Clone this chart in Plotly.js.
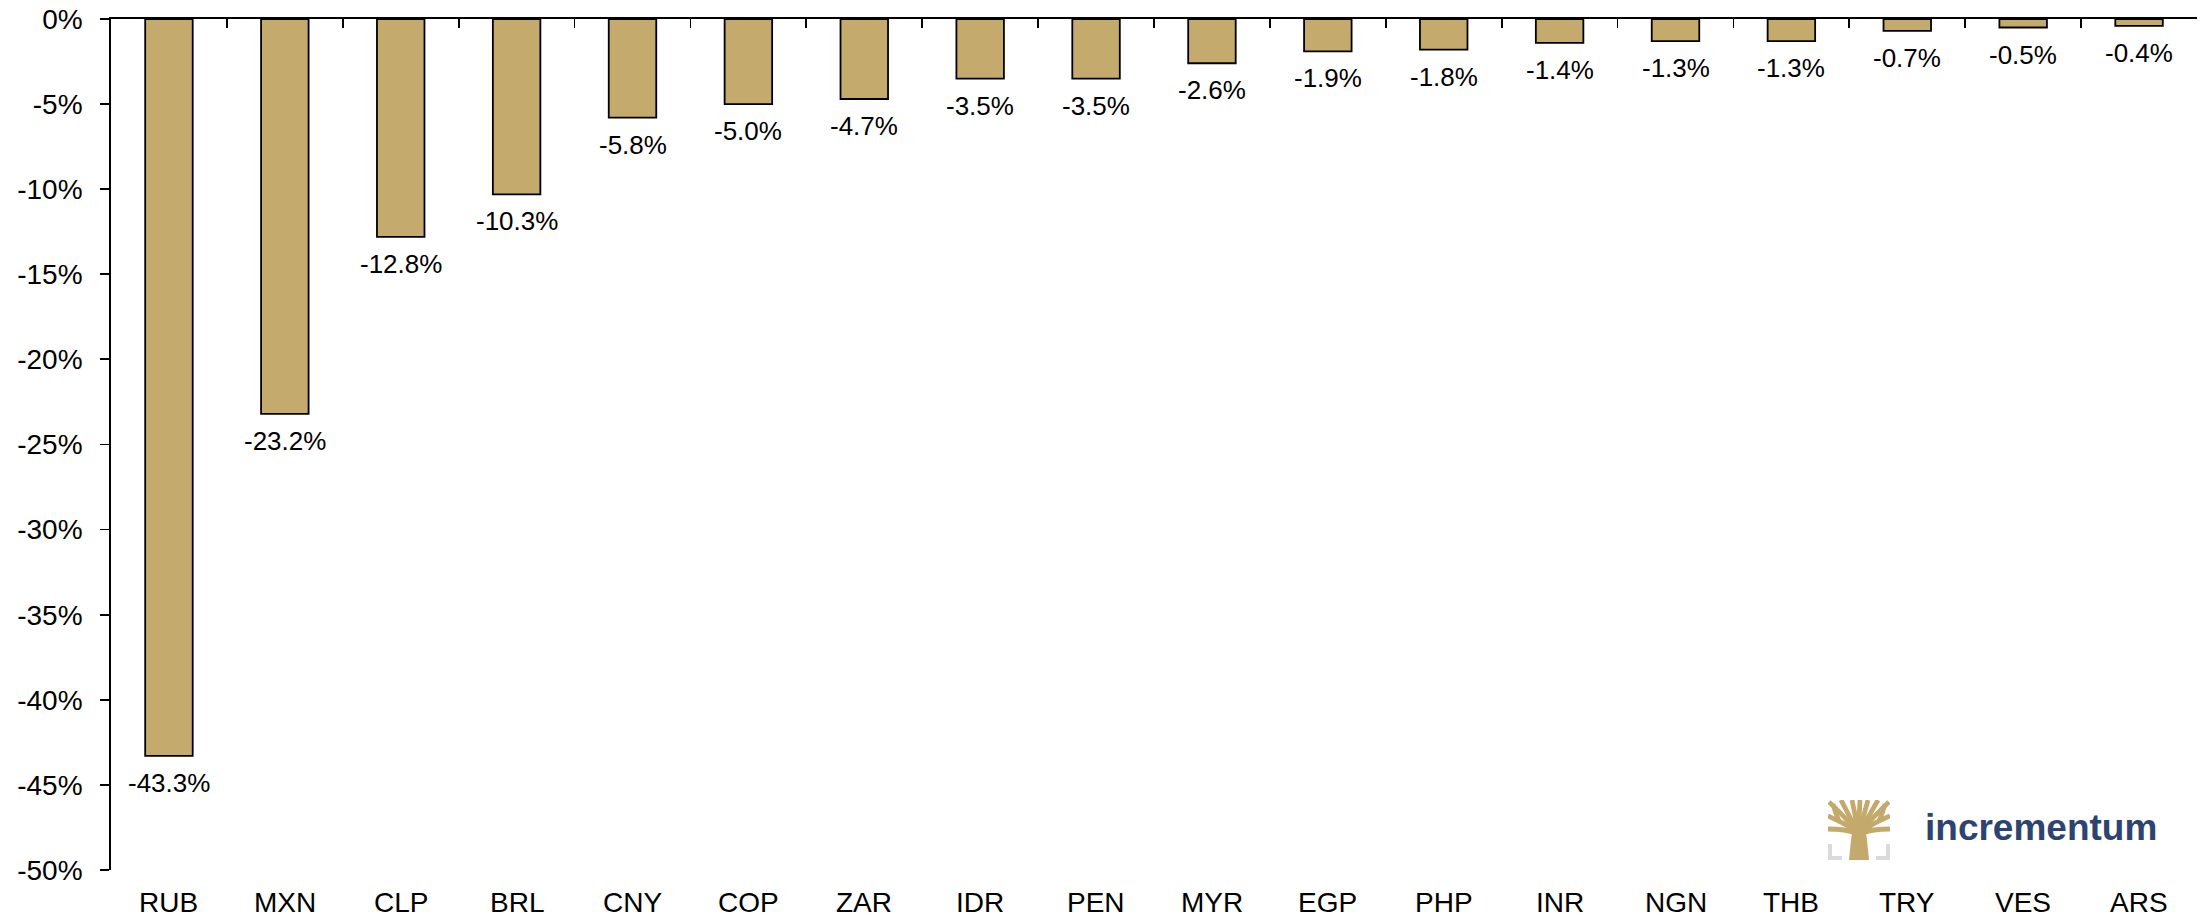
<!DOCTYPE html>
<html>
<head>
<meta charset="utf-8">
<script src="https://cdn.plot.ly/plotly-3.0.1.min.js"></script>
<style>html,body{margin:0;padding:0;background:#fff;}#chart{width:2208px;height:919px;}</style>
</head>
<body>
<div id="chart"></div>
<script>
const currencies = ["RUB","MXN","CLP","BRL","CNY","COP","ZAR","IDR","PEN","MYR","EGP","PHP","INR","NGN","THB","TRY","VES","ARS"];
const changes = [-43.3,-23.2,-12.8,-10.3,-5.8,-5.0,-4.7,-3.5,-3.5,-2.6,-1.9,-1.8,-1.4,-1.3,-1.3,-0.7,-0.5,-0.4];
const yTicks = [0,-5,-10,-15,-20,-25,-30,-35,-40,-45,-50];

const gold = "rgb(196,170,108)";
const font = "Liberation Sans, Arial, sans-serif";

const logoSvg = `<svg xmlns="http://www.w3.org/2000/svg" width="62" height="60" viewBox="0 0 62 60">
<path d="M0 44 V60 H14 V56 H4 V44 Z" fill="#DADADF"/>
<path d="M62 44 V60 H48 V56 H58 V44 Z" fill="#DADADF"/>
<path d="M21 60 L23 40 Q24 31 26 27 L36 27 Q38 31 39 40 L41 60 Z" fill="#C4A96C"/>
<g fill="none" stroke="#C4A96C" stroke-width="4.8" stroke-linecap="butt">
<path d="M28 33 Q18 29 0 29"/>
<path d="M28 31 Q14 22 0 16"/>
<path d="M28 30 Q14 14 1 2"/>
<path d="M29 30 Q20 14 13 0"/>
<path d="M30 30 Q27 14 24 0"/>
<path d="M31 30 Q31 14 32 0"/>
<path d="M32 30 Q36 14 40 0"/>
<path d="M33 30 Q42 14 50 0"/>
<path d="M34 30 Q48 14 61 2"/>
<path d="M34 31 Q47 22 62 16"/>
<path d="M34 33 Q44 29 62 29"/>
<path d="M11 21 Q7 12 5 4"/>
<path d="M51 21 Q55 12 57 4"/>
</g></svg>`;
const logoSrc = "data:image/svg+xml;base64," + btoa(logoSvg);

const trace = {
  type: "bar",
  x: currencies,
  y: changes,
  width: 0.41,
  marker: {color: gold, line: {color: "#000", width: 1.8}},
  cliponaxis: false,
  hoverinfo: "x+y"
};

const annotations = currencies.map(c => ({
  x: c, xref: "x", y: 0, yref: "paper",
  text: c, showarrow: false, yanchor: "middle", yshift: -32, borderpad: 0,
  font: {family: font, size: 28, color: "#000"}
}));
changes.forEach((v, i) => annotations.push({
  x: currencies[i], xref: "x", y: v, yref: "y",
  text: v.toFixed(1) + "%", showarrow: false, yanchor: "top", yshift: -10,
  font: {family: font, size: 26, color: "#000"}
}));
annotations.push({
  x: 1, xref: "paper", y: 0, yref: "paper", xanchor: "right", yanchor: "bottom",
  xshift: -38, yshift: 20,
  text: "<b>incrementum</b>", showarrow: false,
  font: {family: "Liberation Sans, Arial, sans-serif", size: 37, color: "#2E4470"}
});

const layout = {
  width: 2208, height: 919,
  margin: {l: 111, r: 11, t: 19, b: 49},
  paper_bgcolor: "#fff", plot_bgcolor: "#fff",
  showlegend: false,
  xaxis: {
    type: "category", side: "top",
    showline: true, linecolor: "#000", linewidth: 1.8,
    ticks: "inside", tickson: "boundaries", ticklen: 9, tickwidth: 1.8, tickcolor: "#000",
    showticklabels: false, showgrid: false, zeroline: false,
    range: [-0.5, currencies.length - 0.5]
  },
  yaxis: {
    range: [-50, 0],
    tickvals: yTicks,
    ticktext: yTicks.map(v => v + "%"),
    showline: true, linecolor: "#000", linewidth: 1.8,
    ticks: "outside", ticklen: 9, tickwidth: 1.8, tickcolor: "#000",
    tickfont: {family: font, size: 28, color: "#000"},
    ticklabelstandoff: 12,
    showgrid: false, zeroline: false
  },
  annotations: annotations,
  images: [{
    source: logoSrc, xref: "paper", yref: "paper",
    x: (1828 - 111) / (2208 - 111 - 11), y: (919 - 49 - 800) / (919 - 49 - 19),
    sizex: 62 / (2208 - 122), sizey: 60 / (919 - 68),
    xanchor: "left", yanchor: "top", sizing: "stretch", layer: "above"
  }]
};

Plotly.newPlot("chart", [trace], layout, {displayModeBar: false, staticPlot: true});
</script>
</body>
</html>
